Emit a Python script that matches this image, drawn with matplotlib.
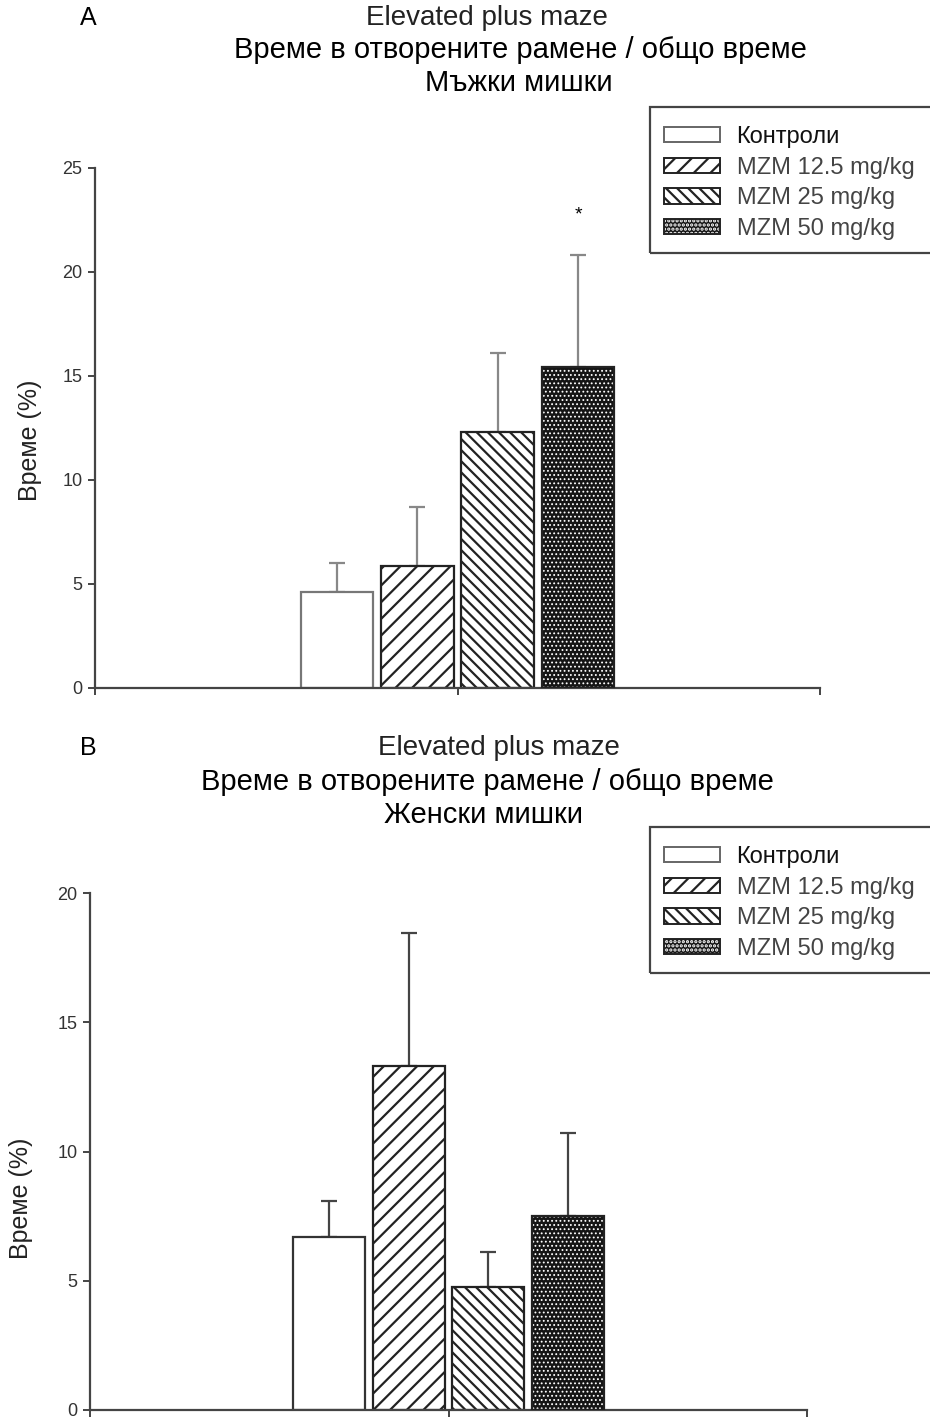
import numpy as np
import matplotlib.pyplot as plt
from matplotlib.patches import Patch, Rectangle

plt.rcParams['font.family'] = ['Liberation Sans', 'DejaVu Sans']
plt.rcParams['hatch.linewidth'] = 1.6

groups = ['Контроли', 'MZM 12.5 mg/kg', 'MZM 25 mg/kg', 'MZM 50 mg/kg']
male_mean = [4.6, 5.88, 12.32, 15.45]
male_sem = [1.42, 2.83, 3.8, 5.38]
female_mean = [6.7, 13.32, 4.77, 7.5]
female_sem = [1.38, 5.12, 1.33, 3.2]

hatches = ['', '//', '\\\\\\', '....']
W, H = 930, 1420


def fx(px):
    return px / W


def fy(py):
    return 1 - py / H


def dotted_patch(**kw):
    # dark fill with fine white dots, thin hatch strokes
    with plt.rc_context({'hatch.linewidth': 0.8}):
        return Patch(facecolor='#151515', edgecolor='white', hatch=hatches[3], lw=0, **kw)


def draw_panel(ax, means, sems, ymax, first_edge, err_color):
    x = (np.arange(4) - 1.5) * 0.222
    for i in range(4):
        if i == 3:
            with plt.rc_context({'hatch.linewidth': 0.8}):
                ax.bar(x[i], means[i], 0.2, color='#151515', edgecolor='white',
                       hatch=hatches[i], lw=0, zorder=2)
            ax.bar(x[i], means[i], 0.2, fill=False, edgecolor='#222', lw=1.6, zorder=3)
        else:
            ec = first_edge if i == 0 else '#222'
            ax.bar(x[i], means[i], 0.2, color='white', edgecolor=ec,
                   hatch=hatches[i], lw=1.6, zorder=2)
    ax.errorbar(x, means, yerr=[np.zeros(4), sems], fmt='none', ecolor=err_color,
                elinewidth=1.6, capsize=6, capthick=1.6, zorder=1)
    ax.set_xlim(-1, 1)
    ax.set_ylim(0, ymax)
    ax.set_yticks(np.arange(0, ymax + 1, 5))
    ax.set_xticks([-1, 0, 1])
    ax.set_xticklabels([])
    for s in ['top', 'right']:
        ax.spines[s].set_visible(False)
    for s in ['left', 'bottom']:
        ax.spines[s].set_color('#444')
        ax.spines[s].set_linewidth(1.6)
    ax.tick_params(direction='out', length=5, width=1.4, color='#444',
                   labelsize=13, labelcolor='#333', pad=4)
    ax.set_ylabel('Време (%)', fontsize=18, color='#222')
    return x


def draw_legend(fig, top_px):
    handles = []
    for i in range(4):
        if i == 3:
            handles.append((dotted_patch(), Patch(fill=False, edgecolor='#222', lw=1.4)))
        else:
            handles.append(Patch(facecolor='white', edgecolor='#222' if i else '#666',
                                 hatch=hatches[i], lw=1.4))
    leg = fig.legend(handles, groups, loc='upper left', frameon=False,
                     bbox_to_anchor=(fx(652), fy(top_px + 7)), borderpad=0,
                     fontsize=17, handlelength=2.4, handleheight=0.63,
                     handletextpad=0.68, labelspacing=0.37)
    for j, t in enumerate(leg.get_texts()):
        t.set_color('#111' if j == 0 else '#444')
    fig.patches.append(Rectangle((fx(650), fy(top_px + 146)), 0.4, 146 / H,
                                 transform=fig.transFigure, fill=False,
                                 edgecolor='#444', lw=1.6))


fig = plt.figure(figsize=(9.3, 14.2), dpi=100)

ax1 = fig.add_axes([fx(95), fy(688), fx(820) - fx(95), (688 - 168) / H])
x1 = draw_panel(ax1, male_mean, male_sem, 25, '#777', '#888')
ax1.yaxis.set_label_coords(-0.073, 0.477)
ax1.text(x1[3], male_mean[3] + male_sem[3] + 1.9, '*', ha='center', va='center', fontsize=14)

ax2 = fig.add_axes([fx(90), fy(1410), fx(807) - fx(90), (1410 - 893) / H])
draw_panel(ax2, female_mean, female_sem, 20, '#333', '#444')
ax2.yaxis.set_label_coords(-0.08, 0.41)

# titles
fig.text(fx(88), fy(18), 'A', fontsize=18, ha='center', va='center')
fig.text(fx(487), fy(18), 'Elevated plus maze', fontsize=20, ha='center', va='center', color='#222')
fig.text(fx(520), fy(50), 'Време в отворените рамене / общо време', fontsize=21, ha='center', va='center')
fig.text(fx(519), fy(83), 'Мъжки мишки', fontsize=21, ha='center', va='center')

fig.text(fx(88), fy(748), 'B', fontsize=18, ha='center', va='center')
fig.text(fx(499), fy(748), 'Elevated plus maze', fontsize=20, ha='center', va='center', color='#222')
fig.text(fx(487), fy(782), 'Време в отворените рамене / общо време', fontsize=21, ha='center', va='center')
fig.text(fx(484), fy(815), 'Женски мишки', fontsize=21, ha='center', va='center')

draw_legend(fig, 107)
draw_legend(fig, 827)

fig.savefig('out.png', dpi=100)
